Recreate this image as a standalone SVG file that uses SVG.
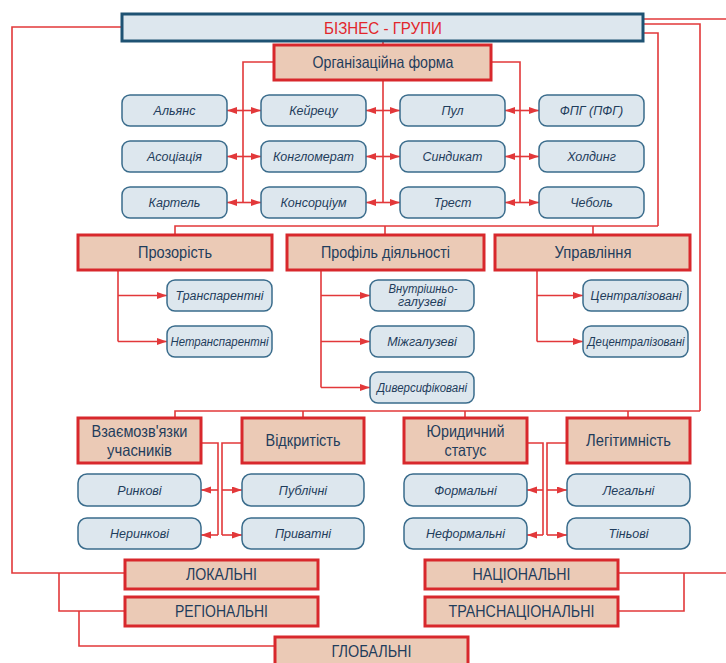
<svg xmlns="http://www.w3.org/2000/svg" width="726" height="663" viewBox="0 0 726 663">
<defs>
<marker id="ah" markerUnits="userSpaceOnUse" markerWidth="11" markerHeight="8" refX="10" refY="3.5" orient="auto">
<path d="M0,0 L10,3.5 L0,7 z" fill="#e2383a"/>
</marker>
<style>
.bg{fill:#ffffff}
.top{fill:#dde7ee;stroke:#1e5273;stroke-width:3}
.cat{fill:#ebcab6;stroke:#d8282c;stroke-width:3}
.leaf{fill:#dde7ee;stroke:#3a6c8c;stroke-width:1.5}
.ln{fill:none;stroke:#e2383a;stroke-width:1.6}
.ar{fill:none;stroke:#e2383a;stroke-width:1.6;marker-end:url(#ah)}
.tt{font-family:"Liberation Sans","Arial",sans-serif;font-size:16.5px;fill:#e2262b;text-anchor:middle}
.ct{font-family:"Liberation Sans","Arial",sans-serif;font-size:16.5px;fill:#1f3d5c;text-anchor:middle}
.lt{font-family:"Liberation Sans","Arial",sans-serif;font-style:italic;font-size:12.5px;fill:#1f3d5c;text-anchor:middle}
</style>
</defs>
<rect class="bg" x="0" y="0" width="726" height="663"/>

<g id="connectors">
<path class="ln" d="M383,41 V45"/>
<path class="ln" d="M274,62 H243 V202.5 M491,62 H520 V202.5 M383,80 V202.5"/>
<path class="ar" d="M243,110.5 H227"/><path class="ar" d="M243,110.5 H261"/>
<path class="ar" d="M243,156.5 H227"/><path class="ar" d="M243,156.5 H261"/>
<path class="ar" d="M243,202.5 H227"/><path class="ar" d="M243,202.5 H261"/>
<path class="ar" d="M383,110.5 H366"/><path class="ar" d="M383,110.5 H400"/>
<path class="ar" d="M383,156.5 H366"/><path class="ar" d="M383,156.5 H400"/>
<path class="ar" d="M383,202.5 H366"/><path class="ar" d="M383,202.5 H400"/>
<path class="ar" d="M520,110.5 H505"/><path class="ar" d="M520,110.5 H539"/>
<path class="ar" d="M520,156.5 H505"/><path class="ar" d="M520,156.5 H539"/>
<path class="ar" d="M520,202.5 H505"/><path class="ar" d="M520,202.5 H539"/>
<path class="ln" d="M643,19 H726"/>
<path class="ln" d="M643,24 H700 V411"/>
<path class="ln" d="M643,33 H658 V226"/>
<path class="ln" d="M658,226 H175 V235 M385,226 V235 M593,226 V235"/>
<path class="ln" d="M118,270 V341.5"/>
<path class="ar" d="M118,295.5 H167"/><path class="ar" d="M118,341.5 H167"/>
<path class="ln" d="M321,270 V387.5"/>
<path class="ar" d="M321,295.5 H370"/><path class="ar" d="M321,341.5 H370"/><path class="ar" d="M321,387.5 H370"/>
<path class="ln" d="M537,270 V341.5"/>
<path class="ar" d="M537,295.5 H583"/><path class="ar" d="M537,341.5 H583"/>
<path class="ln" d="M700,411 H175 V418 M303,411 V418 M465,411 V418 M628,411 V418"/>
<path class="ln" d="M201,443 H218 V535 M242,443 H222 V535"/>
<path class="ar" d="M218,490 H201"/><path class="ar" d="M218,535 H201"/>
<path class="ar" d="M222,490 H242"/><path class="ar" d="M222,535 H242"/>
<path class="ln" d="M527,443 H543 V535 M567,443 H547 V535"/>
<path class="ar" d="M543,490 H527"/><path class="ar" d="M543,535 H527"/>
<path class="ar" d="M547,490 H567"/><path class="ar" d="M547,535 H567"/>
<path class="ln" d="M122,27 H12 V573 H125 M59,573 V611 H125 M79,611 V646 H275"/>
<path class="ln" d="M618,573 H726 M684,573 V611 H618"/>
</g>

<g id="n-root"><rect class="top" x="122" y="14" width="521" height="27"/><text class="tt" x="383" y="33.5" textLength="118" lengthAdjust="spacingAndGlyphs">БІЗНЕС - ГРУПИ</text></g>
<g id="n-org"><rect class="cat" x="274" y="45" width="217" height="35"/><text class="ct" x="383" y="68" textLength="141" lengthAdjust="spacingAndGlyphs">Організаційна форма</text></g>

<g id="n-alians"><rect class="leaf" x="122" y="95" width="105" height="31" rx="8"/><text class="lt" x="174.5" y="115">Альянс</text></g>
<g id="n-keiretsu"><rect class="leaf" x="261" y="95" width="105" height="31" rx="8"/><text class="lt" x="313.5" y="115">Кейрецу</text></g>
<g id="n-pul"><rect class="leaf" x="400" y="95" width="105" height="31" rx="8"/><text class="lt" x="452.5" y="115">Пул</text></g>
<g id="n-fpg"><rect class="leaf" x="539" y="95" width="105" height="31" rx="8"/><text class="lt" x="591.5" y="115">ФПГ (ПФГ)</text></g>

<g id="n-asots"><rect class="leaf" x="122" y="141" width="105" height="31" rx="8"/><text class="lt" x="174.5" y="161">Асоціація</text></g>
<g id="n-konglom"><rect class="leaf" x="261" y="141" width="105" height="31" rx="8"/><text class="lt" x="313.5" y="161">Конгломерат</text></g>
<g id="n-syndykat"><rect class="leaf" x="400" y="141" width="105" height="31" rx="8"/><text class="lt" x="452.5" y="161">Синдикат</text></g>
<g id="n-holding"><rect class="leaf" x="539" y="141" width="105" height="31" rx="8"/><text class="lt" x="591.5" y="161">Холдинг</text></g>

<g id="n-kartel"><rect class="leaf" x="122" y="187" width="105" height="31" rx="8"/><text class="lt" x="174.5" y="207">Картель</text></g>
<g id="n-konsort"><rect class="leaf" x="261" y="187" width="105" height="31" rx="8"/><text class="lt" x="313.5" y="207">Консорціум</text></g>
<g id="n-trest"><rect class="leaf" x="400" y="187" width="105" height="31" rx="8"/><text class="lt" x="452.5" y="207">Трест</text></g>
<g id="n-chebol"><rect class="leaf" x="539" y="187" width="105" height="31" rx="8"/><text class="lt" x="591.5" y="207">Чеболь</text></g>

<g id="n-prozorist"><rect class="cat" x="78" y="235" width="194" height="35"/><text class="ct" x="175" y="258" textLength="74" lengthAdjust="spacingAndGlyphs">Прозорість</text></g>
<g id="n-profil"><rect class="cat" x="287" y="235" width="197" height="35"/><text class="ct" x="385.5" y="258" textLength="129" lengthAdjust="spacingAndGlyphs">Профіль діяльності</text></g>
<g id="n-upravl"><rect class="cat" x="495" y="235" width="195" height="35"/><text class="ct" x="593" y="258" textLength="77" lengthAdjust="spacingAndGlyphs">Управління</text></g>

<g id="n-transp"><rect class="leaf" x="167" y="280" width="105" height="31" rx="8"/><text class="lt" x="219.5" y="300" textLength="88" lengthAdjust="spacingAndGlyphs">Транспарентні</text></g>
<g id="n-netransp"><rect class="leaf" x="167" y="326" width="105" height="31" rx="8"/><text class="lt" x="219.5" y="346" textLength="98" lengthAdjust="spacingAndGlyphs">Нетранспарентні</text></g>

<g id="n-vnutr"><rect class="leaf" x="370" y="280" width="104" height="31" rx="8"/><text class="lt" x="423" y="293" textLength="69" lengthAdjust="spacingAndGlyphs">Внутрішньо-</text><text class="lt" x="422" y="306">галузеві</text></g>
<g id="n-mizh"><rect class="leaf" x="370" y="326" width="104" height="31" rx="8"/><text class="lt" x="422" y="346">Міжгалузеві</text></g>
<g id="n-dyvers"><rect class="leaf" x="370" y="372" width="104" height="31" rx="8"/><text class="lt" x="422" y="392" textLength="90" lengthAdjust="spacingAndGlyphs">Диверсифіковані</text></g>

<g id="n-tsentr"><rect class="leaf" x="583" y="280" width="105" height="31" rx="8"/><text class="lt" x="636" y="300" textLength="91" lengthAdjust="spacingAndGlyphs">Централізовані</text></g>
<g id="n-detsentr"><rect class="leaf" x="583" y="326" width="105" height="31" rx="8"/><text class="lt" x="636" y="346" textLength="97" lengthAdjust="spacingAndGlyphs">Децентралізовані</text></g>

<g id="n-vzaiemo"><rect class="cat" x="78" y="418" width="123" height="45"/><text class="ct" x="139.5" y="437" textLength="96" lengthAdjust="spacingAndGlyphs">Взаємозв'язки</text><text class="ct" x="139.5" y="456" textLength="65" lengthAdjust="spacingAndGlyphs">учасників</text></g>
<g id="n-vidkryt"><rect class="cat" x="242" y="418" width="122" height="45"/><text class="ct" x="303" y="446" textLength="75" lengthAdjust="spacingAndGlyphs">Відкритість</text></g>
<g id="n-yuryd"><rect class="cat" x="404" y="418" width="123" height="45"/><text class="ct" x="465.5" y="437" textLength="78" lengthAdjust="spacingAndGlyphs">Юридичний</text><text class="ct" x="465.5" y="456" textLength="42" lengthAdjust="spacingAndGlyphs">статус</text></g>
<g id="n-legit"><rect class="cat" x="567" y="418" width="123" height="45"/><text class="ct" x="628.5" y="446" textLength="85" lengthAdjust="spacingAndGlyphs">Легітимність</text></g>

<g id="n-rynk"><rect class="leaf" x="78" y="474" width="123" height="32" rx="9"/><text class="lt" x="139.5" y="494.5">Ринкові</text></g>
<g id="n-nerynk"><rect class="leaf" x="78" y="518" width="123" height="31" rx="9"/><text class="lt" x="139.5" y="538">Неринкові</text></g>
<g id="n-publ"><rect class="leaf" x="242" y="474" width="122" height="32" rx="9"/><text class="lt" x="303" y="494.5">Публічні</text></g>
<g id="n-pryv"><rect class="leaf" x="242" y="518" width="122" height="31" rx="9"/><text class="lt" x="303" y="538">Приватні</text></g>
<g id="n-form"><rect class="leaf" x="404" y="474" width="123" height="32" rx="9"/><text class="lt" x="465.5" y="494.5">Формальні</text></g>
<g id="n-neform"><rect class="leaf" x="404" y="518" width="123" height="31" rx="9"/><text class="lt" x="465.5" y="538">Неформальні</text></g>
<g id="n-legal"><rect class="leaf" x="567" y="474" width="123" height="32" rx="9"/><text class="lt" x="628.5" y="494.5">Легальні</text></g>
<g id="n-tin"><rect class="leaf" x="567" y="518" width="123" height="31" rx="9"/><text class="lt" x="628.5" y="538">Тіньові</text></g>

<g id="n-lokal"><rect class="cat" x="125" y="560" width="193" height="29"/><text class="ct" x="221.5" y="580" textLength="71" lengthAdjust="spacingAndGlyphs">ЛОКАЛЬНІ</text></g>
<g id="n-region"><rect class="cat" x="125" y="597" width="193" height="29"/><text class="ct" x="221.5" y="617" textLength="93" lengthAdjust="spacingAndGlyphs">РЕГІОНАЛЬНІ</text></g>
<g id="n-global"><rect class="cat" x="275" y="637" width="193" height="30"/><text class="ct" x="371.5" y="657" textLength="80" lengthAdjust="spacingAndGlyphs">ГЛОБАЛЬНІ</text></g>
<g id="n-nats"><rect class="cat" x="425" y="560" width="193" height="29"/><text class="ct" x="521.5" y="580" textLength="98" lengthAdjust="spacingAndGlyphs">НАЦІОНАЛЬНІ</text></g>
<g id="n-transnats"><rect class="cat" x="425" y="597" width="193" height="29"/><text class="ct" x="521.5" y="617" textLength="146" lengthAdjust="spacingAndGlyphs">ТРАНСНАЦІОНАЛЬНІ</text></g>
</svg>
